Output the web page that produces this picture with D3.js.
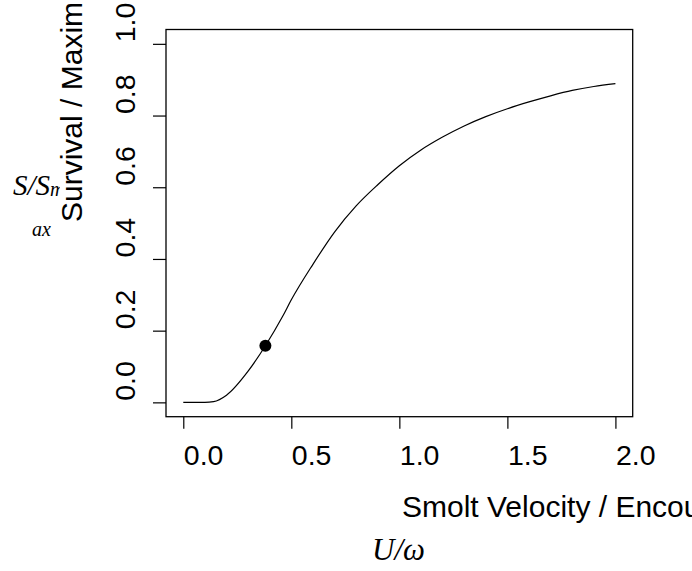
<!DOCTYPE html>
<html>
<head>
  <meta charset="utf-8">
  <script src="https://d3js.org/d3.v7.min.js"></script>
  <style>
    body { margin: 0; background: #fff; }
    svg { display: block; }
    .axis text { font-family: "Liberation Sans", Arial, sans-serif; font-size: 28.5px; fill: #000; }
    .axis line { stroke: #000; stroke-width: 1.2; }
    .title { font-family: "Liberation Sans", Arial, sans-serif; font-size: 30px; fill: #000; }
    .math { font-family: "Liberation Serif", "Times New Roman", serif; font-style: italic; fill: #000; }
  </style>
</head>
<body>
<svg id="canvas" width="692" height="571"></svg>
<script>
  // curve
  const velocity = [0, 0.10, 0.14, 0.20, 0.30, 0.38, 0.46, 0.50, 0.60, 0.70, 0.80, 0.90,
                    1.00, 1.10, 1.20, 1.30, 1.40, 1.50, 1.60, 1.70, 1.80, 1.90, 2.00];
  const survival = [0, 0, 0.002, 0.02, 0.087, 0.158, 0.240, 0.286, 0.385, 0.475, 0.548, 0.607,
                    0.660, 0.704, 0.740, 0.771, 0.797, 0.819, 0.838, 0.855, 0.870, 0.881, 0.889];

  // highlighted point
  const markX = [0.38];
  const markY = [0.158];

  const xTicks = [0, 0.5, 1, 1.5, 2];
  const xTickLabels = ["0.0", "0.5", "1.0", "1.5", "2.0"];
  const yTicks = [0, 0.2, 0.4, 0.6, 0.8, 1.0];
  const yTickLabels = ["0.0", "0.2", "0.4", "0.6", "0.8", "1.0"];

  const svg = d3.select("svg");

  const box = { left: 166, right: 632.7, top: 29.5, bottom: 416.7 };

  // R style: 4% padding on each side of the data range
  const x = d3.scaleLinear().domain([-0.08, 2.08]).range([box.left, box.right]);
  const y = d3.scaleLinear().domain([-0.04, 1.04]).range([box.bottom, box.top]);

  // labels start at the tick instead of being centred on it, like the source
  const xAxis = svg.append("g")
      .attr("class", "axis")
      .attr("transform", `translate(0,${box.bottom})`)
      .call(d3.axisBottom(x).tickValues(xTicks).tickSize(12)
        .tickFormat((d, i) => xTickLabels[i]));
  xAxis.select(".domain").remove();
  xAxis.selectAll("text")
      .attr("x", 0).attr("y", 48.3).attr("dy", 0)
      .attr("text-anchor", "start");

  const yAxis = svg.append("g")
      .attr("class", "axis")
      .attr("transform", `translate(${box.left},0)`)
      .call(d3.axisLeft(y).tickValues(yTicks).tickSize(13)
        .tickFormat((d, i) => yTickLabels[i]));
  yAxis.select(".domain").remove();
  yAxis.selectAll("text")
      .attr("x", 0).attr("dy", 0)
      .attr("text-anchor", "start")
      .attr("transform", "translate(-31,-2) rotate(-90)");

  svg.append("rect")
      .attr("x", box.left).attr("y", box.top)
      .attr("width", box.right - box.left).attr("height", box.bottom - box.top)
      .attr("fill", "none").attr("stroke", "#000").attr("stroke-width", 1.3);

  const line = d3.line()
      .x((d, i) => x(velocity[i]))
      .y(d => y(d))
      .curve(d3.curveMonotoneX);

  svg.append("path")
      .attr("d", line(survival))
      .attr("fill", "none").attr("stroke", "#000").attr("stroke-width", 1.2);

  svg.selectAll(".mark")
    .data(markX)
    .enter().append("circle")
      .attr("class", "mark")
      .attr("cx", d => x(d))
      .attr("cy", (d, i) => y(markY[i]))
      .attr("r", 6)
      .attr("fill", "#000");

  // axis titles (run off the page, as in the original)
  svg.append("text")
      .attr("class", "title")
      .attr("x", 402).attr("y", 517)
      .text("Smolt Velocity / Encounter Velocity");

  svg.append("text")
      .attr("class", "math")
      .attr("x", 372).attr("y", 560)
      .attr("font-size", 31)
      .text("U/\u03c9");

  svg.append("text")
      .attr("class", "math")
      .attr("x", 13).attr("y", 195)
      .attr("font-size", 29)
      .text("S/S");

  svg.append("clipPath").attr("id", "subclip")
    .append("rect").attr("x", 0).attr("y", 0).attr("width", 60).attr("height", 571);

  svg.append("text")
      .attr("class", "math")
      .attr("x", 50).attr("y", 196)
      .attr("font-size", 20)
      .attr("clip-path", "url(#subclip)")
      .text("m");

  svg.append("text")
      .attr("class", "math")
      .attr("x", 32).attr("y", 236)
      .attr("font-size", 20)
      .text("ax");

  svg.append("text")
      .attr("class", "title")
      .attr("transform", "translate(82,222) rotate(-90)")
      .text("Survival / Maximum Survival");
</script>
</body>
</html>
